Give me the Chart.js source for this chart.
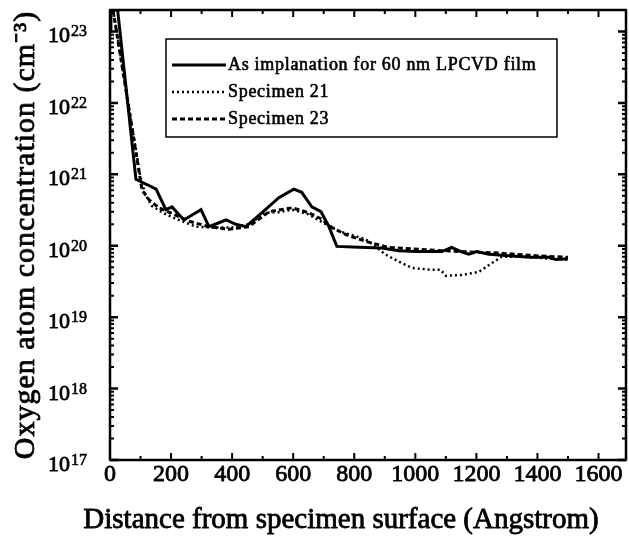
<!DOCTYPE html>
<html>
<head>
<meta charset="utf-8">
<script src="https://cdn.jsdelivr.net/npm/chart.js@4/dist/chart.umd.min.js"></script>
<style>
  html, body { margin: 0; padding: 0; background: #fff; }
  #wrap { width: 629px; height: 541px; }
</style>
</head>
<body>
<div id="wrap"><canvas id="chart" width="629" height="541"></canvas></div>
<script>
// Datos
const solidX = [0, 3, 25, 85, 121, 151, 183, 203, 242, 298, 324, 357, 380, 412, 445, 498, 553, 602, 628, 661, 691, 717, 743, 815, 890, 946, 1002, 1044, 1087, 1119, 1149, 1175, 1201, 1241, 1316, 1381, 1437, 1460, 1500];
const solidY = [1e23, 2e23, 2e23, 8.5e20, 7.2e20, 6.2e20, 3.2e20, 3.5e20, 2.3e20, 3.2e20, 1.85e20, 2.1e20, 2.3e20, 2e20, 1.85e20, 2.9e20, 4.7e20, 6.2e20, 5.6e20, 3.5e20, 3e20, 1.85e20, 9.8e19, 9.5e19, 9.3e19, 8.5e19, 8.3e19, 8.3e19, 8.3e19, 9.5e19, 8.3e19, 7.6e19, 8.3e19, 7.6e19, 7.2e19, 6.9e19, 6.9e19, 6.4e19, 6.6e19];

const spec21X = [10, 98, 115, 137, 183, 236, 282, 334, 400, 455, 510, 553, 596, 651, 707, 750, 838, 903, 946, 989, 1054, 1083, 1100, 1152, 1208, 1250, 1283, 1339, 1400, 1460, 1500];
const spec21Y = [2e23, 1e21, 5.3e20, 3.6e20, 2.75e20, 2.2e20, 1.85e20, 1.8e20, 1.8e20, 2e20, 2.9e20, 2.95e20, 3.2e20, 2.75e20, 2e20, 1.6e20, 1.23e20, 7.5e19, 6e19, 4.9e19, 4.6e19, 4.6e19, 3.8e19, 3.9e19, 4.3e19, 5.7e19, 7e19, 7e19, 6.8e19, 6.5e19, 6.4e19];

const spec23X = [10, 95, 105, 128, 160, 210, 259, 324, 390, 455, 521, 596, 651, 694, 727, 773, 838, 913, 1011, 1142, 1273, 1404, 1500];
const spec23Y = [2e23, 1.1e21, 6e20, 4.4e20, 3.4e20, 2.75e20, 2.2e20, 1.85e20, 1.7e20, 1.85e20, 3e20, 3.4e20, 2.9e20, 2.35e20, 1.8e20, 1.43e20, 1.15e20, 9.5e19, 8.9e19, 8.3e19, 7.9e19, 7.2e19, 6.9e19];

const seriesNames = ["As implanation for 60 nm LPCVD film", "Specimen 21", "Specimen 23"];
const xTicks = [0, 200, 400, 600, 800, 1000, 1200, 1400, 1600];
const yExponents = [17, 18, 19, 20, 21, 22, 23];
const xTitle = "Distance from specimen surface (Angstrom)";
const yTitle = "Oxygen atom concentration (cm⁻³)";

const FONT = "'Liberation Serif', 'Times New Roman', serif";

function toPoints(xs, ys) {
    return xs.map((x, i) => ({ x: x, y: ys[i] }));
}

// texto con un trazo fino para imitar la impresion gruesa
function heavyText(ctx, text, x, y, w) {
    ctx.fillText(text, x, y);
    ctx.lineWidth = w;
    ctx.strokeText(text, x, y);
}

// Marco, marcas interiores, etiquetas, titulos y leyenda
const framePlugin = {
    id: "frame",
    afterDraw(chart) {
        const ctx = chart.ctx;
        const a = chart.chartArea;
        const xs = chart.scales.x;
        const ys = chart.scales.y;
        ctx.save();
        ctx.strokeStyle = "#000";
        ctx.fillStyle = "#000";
        ctx.lineJoin = "round";

        // ticks en x (cada 100, mayores cada 200)
        ctx.lineWidth = 2;
        for (let v = 0; v <= xs.max; v += 100) {
            const px = xs.getPixelForValue(v);
            const len = v % 200 === 0 ? 7 : 4;
            ctx.beginPath();
            ctx.moveTo(px, a.bottom); ctx.lineTo(px, a.bottom - len);
            ctx.moveTo(px, a.top); ctx.lineTo(px, a.top + len);
            ctx.stroke();
        }
        // ticks en y (decadas y menores)
        for (let e = yExponents[0]; e <= yExponents[yExponents.length - 1]; e++) {
            for (let m = 1; m <= 9; m++) {
                const val = m * Math.pow(10, e);
                if (val > ys.max) break;
                const py = ys.getPixelForValue(val);
                const len = m === 1 ? 8 : 4;
                ctx.lineWidth = m === 1 ? 2.5 : 2;
                ctx.beginPath();
                ctx.moveTo(a.left, py); ctx.lineTo(a.left + len, py);
                ctx.moveTo(a.right, py); ctx.lineTo(a.right - len, py);
                ctx.stroke();
            }
        }

        // marco
        ctx.lineWidth = 2.5;
        ctx.strokeRect(a.left, a.top, a.right - a.left, a.bottom - a.top);

        // etiquetas del eje x
        ctx.font = "24px " + FONT;
        ctx.textAlign = "center";
        ctx.textBaseline = "middle";
        xs.ticks.forEach(t => {
            heavyText(ctx, String(t.value), xs.getPixelForValue(t.value), a.bottom + 15, 0.8);
        });

        // etiquetas del eje y
        yExponents.forEach(e => {
            const py = ys.getPixelForValue(Math.pow(10, e));
            ctx.font = "22px " + FONT;
            ctx.textAlign = "right";
            ctx.textBaseline = "alphabetic";
            heavyText(ctx, "10", 70, py + 11, 0.8);
            ctx.font = "16px " + FONT;
            ctx.textAlign = "left";
            heavyText(ctx, String(e), 71, py + 5, 0.6);
        });

        // titulo del eje x
        ctx.font = "29px " + FONT;
        ctx.textAlign = "center";
        ctx.textBaseline = "middle";
        heavyText(ctx, xTitle, 341, 520, 0.8);

        // titulo del eje y
        ctx.save();
        ctx.translate(26, (a.top + a.bottom) / 2);
        ctx.rotate(-Math.PI / 2);
        ctx.font = "30px " + FONT;
        ctx.letterSpacing = "1px";
        ctx.textAlign = "center";
        ctx.textBaseline = "middle";
        heavyText(ctx, yTitle, 0, 0, 0.8);
        ctx.restore();

        // leyenda
        const lx = a.left + 56, ly = a.top + 29, lw = 391, lh = 98;
        ctx.lineWidth = 1.5;
        ctx.strokeRect(lx, ly, lw, lh);
        chart.data.datasets.forEach((ds, i) => {
            const yy = ly + 26 + i * 27;
            ctx.lineWidth = ds.borderWidth;
            ctx.setLineDash(ds.borderDash || []);
            ctx.beginPath();
            ctx.moveTo(lx + 6, yy); ctx.lineTo(lx + 60, yy);
            ctx.stroke();
            ctx.setLineDash([]);
            ctx.font = "18px " + FONT;
            ctx.letterSpacing = "0.7px";
            ctx.textAlign = "left";
            ctx.textBaseline = "middle";
            heavyText(ctx, ds.label, lx + 62, yy, 0.6);
        });
        ctx.restore();
    }
};

const ctx = document.getElementById("chart").getContext("2d");
const chart = new Chart(ctx, {
    type: "line",
    data: {
        datasets: [
            {
                label: seriesNames[0],
                data: toPoints(solidX, solidY),
                borderColor: "#000",
                borderWidth: 3,
                pointRadius: 0,
                tension: 0
            },
            {
                label: seriesNames[1],
                data: toPoints(spec21X, spec21Y),
                borderColor: "#000",
                borderWidth: 2.5,
                borderDash: [2, 3],
                pointRadius: 0,
                tension: 0
            },
            {
                label: seriesNames[2],
                data: toPoints(spec23X, spec23Y),
                borderColor: "#000",
                borderWidth: 3,
                borderDash: [5, 3],
                pointRadius: 0,
                tension: 0
            }
        ]
    },
    options: {
        responsive: false,
        animation: false,
        layout: { padding: { top: 10, right: 3, left: 0, bottom: 0 } },
        plugins: {
            legend: { display: false },
            tooltip: { enabled: false }
        },
        scales: {
            x: {
                type: "linear",
                min: 0,
                max: 1690,
                afterBuildTicks: (scale) => { scale.ticks = xTicks.map(v => ({ value: v })); },
                afterFit: (scale) => { scale.height = 81; },
                grid: { display: false, drawTicks: false },
                border: { display: false },
                ticks: { display: false },
                title: { display: false }
            },
            y: {
                type: "logarithmic",
                min: 1e17,
                max: 2e23,
                afterFit: (scale) => { scale.width = 110; },
                grid: { display: false, drawTicks: false },
                border: { display: false },
                ticks: { display: false },
                title: { display: false }
            }
        }
    },
    plugins: [framePlugin]
});
</script>
</body>
</html>
